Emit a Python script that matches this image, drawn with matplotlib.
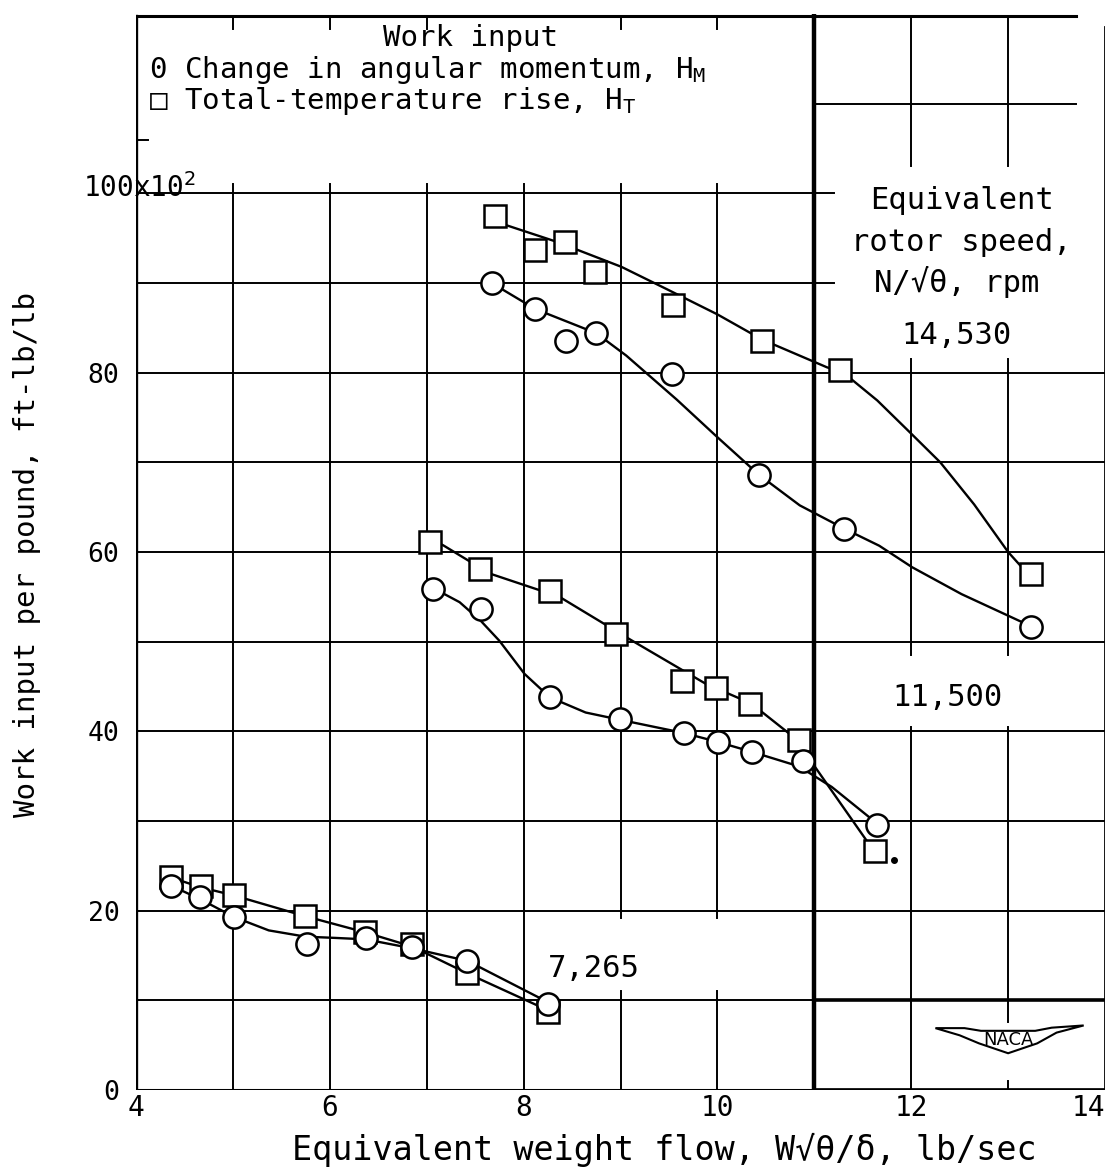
import numpy as np
import matplotlib
matplotlib.use("Agg")
import matplotlib.pyplot as plt
from matplotlib.patches import Polygon

plt.rcParams['font.family'] = ['DejaVu Sans Mono', 'DejaVu Sans']
plt.rcParams['mathtext.fontset'] = 'dejavusans'

# ---- data (flow lb/sec, work ft-lb/lb x 10^-2) ----
# 14,530 rpm
flow_14530_ht = [7.70, 8.12, 8.43, 8.74, 9.54, 10.46, 11.27, 13.24]
work_14530_ht = [97.5, 93.7, 94.6, 91.2, 87.5, 83.5, 80.3, 57.6]
flow_14530_hm = [7.67, 8.12, 8.44, 8.75, 9.53, 10.43, 11.31, 13.24]
work_14530_hm = [90.0, 87.1, 83.5, 84.4, 79.8, 68.6, 62.6, 51.6]

# 11,500 rpm
flow_11500_ht = [7.03, 7.55, 8.27, 8.95, 9.63, 9.99, 10.34, 10.84, 11.63]
work_11500_ht = [61.1, 58.1, 55.6, 50.8, 45.6, 44.8, 43.1, 39.0, 26.6]
flow_11500_hm = [7.07, 7.56, 8.27, 8.99, 9.66, 10.01, 10.36, 10.88, 11.65]
work_11500_hm = [55.9, 53.6, 43.8, 41.4, 39.8, 38.8, 37.7, 36.7, 29.6]

# 7,265 rpm
flow_7265_ht = [4.36, 4.67, 5.01, 5.74, 6.36, 6.85, 7.42, 8.25]
work_7265_ht = [23.7, 22.7, 21.7, 19.4, 17.6, 16.3, 13.0, 8.7]
flow_7265_hm = [4.36, 4.66, 5.01, 5.76, 6.37, 6.85, 7.42, 8.25]
work_7265_hm = [22.8, 21.5, 19.3, 16.3, 16.9, 15.9, 14.4, 9.6]

# faired curves as traced on the chart
fair_14530_ht_x = [7.75, 8.34, 9.01, 9.48, 10.0, 10.46, 11.13, 11.30, 11.65, 12.0, 12.3, 12.65, 13.0, 13.2]
fair_14530_ht_y = [96.7, 94.6, 91.8, 89.3, 86.5, 83.7, 80.6, 80.0, 76.9, 73.2, 70.0, 65.3, 60.0, 57.6]
fair_14530_hm_x = [7.67, 8.12, 8.75, 9.06, 9.58, 9.99, 10.43, 10.85, 11.31, 11.67, 12.01, 12.52, 13.04, 13.24]
fair_14530_hm_y = [90.0, 87.1, 84.4, 81.9, 77.0, 72.9, 68.6, 65.2, 62.6, 60.7, 58.3, 55.3, 52.7, 51.7]

fair_11500_ht_x = [7.08, 7.17, 7.65, 8.37, 9.09, 9.88, 10.35, 10.84, 10.99, 11.56, 11.62]
fair_11500_ht_y = [61.2, 60.75, 57.6, 55.0, 50.3, 45.3, 43.1, 38.9, 36.3, 27.5, 26.7]
fair_11500_hm_x = [7.08, 7.34, 7.56, 7.75, 8.01, 8.27, 8.64, 8.99, 9.66, 10.01, 10.36, 10.84, 11.18, 11.65]
fair_11500_hm_y = [55.9, 54.4, 52.3, 50.1, 46.4, 43.8, 42.1, 41.3, 39.8, 38.8, 37.7, 36.1, 33.8, 29.7]

fair_7265_ht_x = [4.36, 4.67, 5.01, 5.74, 6.36, 6.85, 7.42, 8.25]
fair_7265_ht_y = [23.7, 22.6, 21.7, 19.4, 17.6, 16.0, 13.0, 8.9]
fair_7265_hm_x = [4.36, 4.66, 5.01, 5.37, 5.75, 6.06, 6.37, 6.85, 7.42, 8.25]
fair_7265_hm_y = [22.8, 21.3, 19.3, 17.8, 17.1, 16.96, 16.8, 15.8, 14.4, 9.8]

speed_labels = ["14,530", "11,500", "7,265"]
x_ticks = [4, 6, 8, 10, 12, 14]
y_ticks = [0, 20, 40, 60, 80]

fig = plt.figure(figsize=(11.17, 11.72), dpi=100)
ax = fig.add_axes([136/1117, 82/1172, 969/1117, 1076/1172])
ax.set_xlim(4, 14)
ax.set_ylim(0, 120)
for s in ax.spines.values():
    s.set_visible(False)

# ---- hand drawn grid ----
k = dict(color='black', lw=1.4, zorder=1)
for y in [20, 30, 40, 50, 60, 70, 80]:
    ax.plot([4, 14], [y, y], **k)
ax.plot([4, 11], [10, 10], **k)
ax.plot([11, 14], [10, 10], color='black', lw=2.6, zorder=1)
for y in [90, 100]:
    ax.plot([4, 11.2], [y, y], **k)
ax.plot([11, 13.7], [110, 110], **k)
ax.plot([4, 13.7], [119.8, 119.8], color='black', lw=2.2, zorder=1)
ax.plot([4, 11], [0, 0], color='black', lw=2.2, zorder=1)
ax.plot([11, 14], [0, 0], color='black', lw=3.4, zorder=1)
for x in [5, 6, 7, 8]:
    ax.plot([x, x], [0, 101], **k)
for x in [9, 10]:
    ax.plot([x, x], [0, 11], **k)
    ax.plot([x, x], [19.2, 101], **k)
for x in [5, 6, 7, 9, 10]:
    ax.plot([x, x], [119.8, 118.3], **k)
ax.plot([4, 4.12], [106, 106], **k)
ax.plot([4, 4], [0, 119.8], color='black', lw=2.4, zorder=1)
ax.plot([11, 11], [0, 119.8], color='black', lw=3.2, zorder=1)
ax.plot([14, 14], [0, 118.5], color='black', lw=2.0, zorder=1)
ax.plot([12, 12], [103, 119.8], **k)
ax.plot([12, 12], [48.5, 81.5], **k)
ax.plot([12, 12], [0, 40.5], **k)
ax.plot([13, 13], [103, 119.8], **k)
ax.plot([13, 13], [48.5, 81.5], **k)
ax.plot([13, 13], [7.6, 40.5], **k)
ax.plot([13, 13], [0, 1.0], **k)

# ---- curves and points ----
lk = dict(color='black', lw=1.7, zorder=2)
mk_sq = dict(ls='none', marker='s', ms=16, mfc='white', mec='black', mew=1.8, zorder=3)
mk_ci = dict(ls='none', marker='o', ms=16, mfc='white', mec='black', mew=1.8, zorder=3)

ax.plot(fair_14530_ht_x, fair_14530_ht_y, **lk)
ax.plot(fair_14530_hm_x, fair_14530_hm_y, **lk)
ax.plot(fair_11500_ht_x, fair_11500_ht_y, **lk)
ax.plot(fair_11500_hm_x, fair_11500_hm_y, **lk)
ax.plot(fair_7265_ht_x, fair_7265_ht_y, **lk)
ax.plot(fair_7265_hm_x, fair_7265_hm_y, **lk)

ax.plot(flow_14530_ht, work_14530_ht, **mk_sq)
ax.plot(flow_14530_hm, work_14530_hm, **mk_ci)
ax.plot(flow_11500_ht, work_11500_ht, **mk_sq)
ax.plot(flow_11500_hm, work_11500_hm, **mk_ci)
ax.plot(flow_7265_ht, work_7265_ht, **mk_sq)
ax.plot(flow_7265_hm, work_7265_hm, **mk_ci)
ax.plot([11.82], [25.7], 'o', color='black', ms=4, zorder=3)

# ---- ticks ----
ax.set_xticks(x_ticks)
ax.set_xticklabels([str(v) for v in x_ticks], fontsize=20)
ax.xaxis.get_ticklabels()[-1].set_horizontalalignment('right')
ax.set_yticks(y_ticks)
ax.set_yticklabels([str(v) for v in y_ticks], fontsize=19)
ax.tick_params(axis='x', length=0, pad=3)
ax.tick_params(axis='y', length=0, pad=12)
ax.text(4.62, 100.6, r"100x10$^2$", fontsize=20, ha='right', va='center')

# ---- annotations ----
ax.text(7.45, 117.3, "Work input", fontsize=21, ha='center', va='center')
ax.text(4.13, 113.8, r"0 Change in angular momentum, H$_\mathregular{M}$", fontsize=21, ha='left', va='center')
ax.text(4.13, 110.3, "\u25a1 Total-temperature rise, H$_\\mathregular{T}$", fontsize=21, ha='left', va='center')
ax.text(12.52, 99.2, "Equivalent", fontsize=22, ha='center', va='center')
ax.text(12.52, 94.5, "rotor speed,", fontsize=22, ha='center', va='center')
ax.text(12.47, 90.1, "N/\u221a\u03b8, rpm", fontsize=22, ha='center', va='center')
ax.text(12.47, 84.2, speed_labels[0], fontsize=22, ha='center', va='center')
ax.text(12.37, 43.8, speed_labels[1], fontsize=22, ha='center', va='center')
ax.text(8.72, 13.6, speed_labels[2], fontsize=22, ha='center', va='center')

# NACA emblem
wing = Polygon([[12.25, 6.9], [12.55, 6.9], [12.72, 6.6], [13.28, 6.6], [13.45, 6.95], [13.78, 7.2],
                [13.5, 6.4], [13.3, 5.2], [13.0, 4.1], [12.7, 5.2], [12.5, 6.1]],
               closed=True, fc='white', ec='black', lw=1.5, zorder=3)
ax.add_patch(wing)
ax.text(13.0, 5.6, "NACA", fontsize=13, ha='center', va='center', family='DejaVu Sans', zorder=4)

fig.text(0.595, 0.019, "Equivalent weight flow, W\u221a\u03b8/\u03b4, lb/sec", fontsize=24, ha='center', va='center')
fig.text(0.024, 0.527, "Work input per pound, ft-lb/lb", fontsize=21, ha='center', va='center', rotation=90)

fig.savefig("out.png", dpi=100)
